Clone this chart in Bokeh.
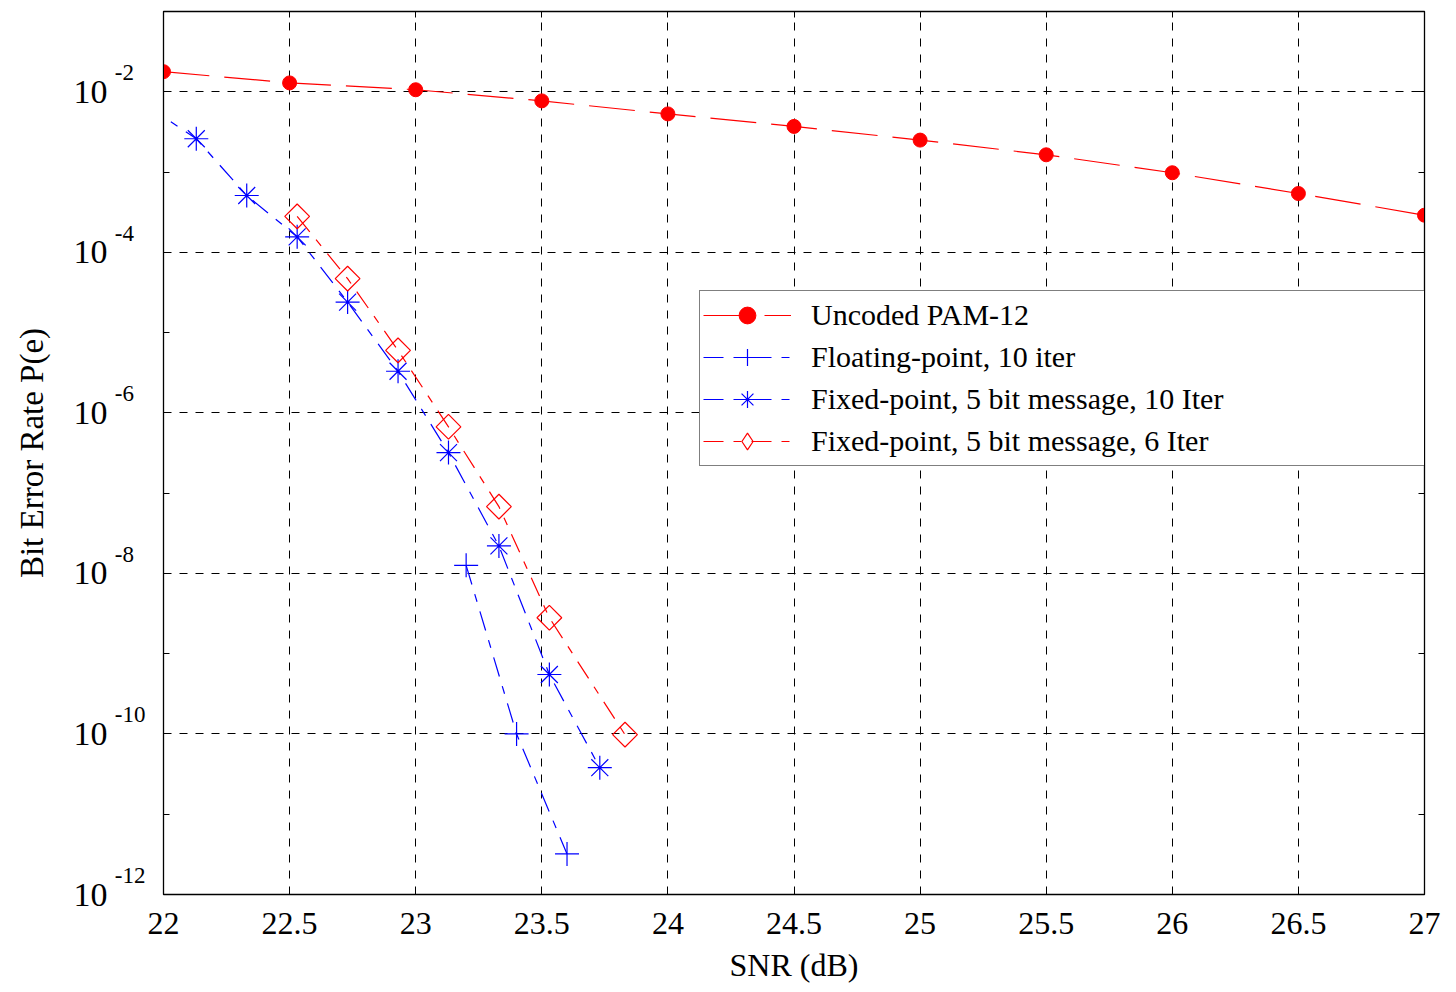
import math
from bokeh.plotting import figure
from bokeh.models import (FixedTicker, Legend, LogAxis, LinearAxis, Range1d,
                          CustomJSTickFormatter)
from bokeh.embed import file_html
from bokeh.resources import INLINE

# ---------------- data ----------------
snr_uncoded = [22.0, 22.5, 23.0, 23.5, 24.0, 24.5, 25.0, 25.5, 26.0, 26.5, 27.0]
ber_uncoded = [1.78e-2, 1.29e-2, 1.06e-2, 7.7e-3, 5.3e-3, 3.7e-3, 2.5e-3, 1.64e-3, 9.8e-4, 5.4e-4, 2.9e-4]

snr_float10 = [23.2, 23.4, 23.6]
ber_float10 = [1.26e-8, 1.0e-10, 3.2e-12]

snr_fixed10 = [21.93, 22.13, 22.33, 22.53, 22.73, 22.93, 23.13, 23.33, 23.53, 23.73]
ber_fixed10 = [6.8e-3, 2.6e-3, 5.1e-4, 1.56e-4, 2.4e-5, 3.3e-6, 3.2e-7, 2.2e-8, 5.5e-10, 3.8e-11]

snr_fixed6 = [22.53, 22.73, 22.93, 23.13, 23.33, 23.53, 23.83]
ber_fixed6 = [2.8e-4, 4.7e-5, 6.0e-6, 6.7e-7, 6.8e-8, 2.8e-9, 9.8e-11]

x_ticks = [22, 22.5, 23, 23.5, 24, 24.5, 25, 25.5, 26, 26.5, 27]
x_tick_labels = ["22", "22.5", "23", "23.5", "24", "24.5", "25", "25.5", "26", "26.5", "27"]
y_major_exponents = [-12, -10, -8, -6, -4, -2]
y_minor_exponents = [-11, -9, -7, -5, -3, -1]
y_all_exponents = list(range(-12, 0))

labels = ["Uncoded PAM-12", "Floating-point, 10 iter",
          "Fixed-point, 5 bit message, 10 Iter", "Fixed-point, 5 bit message, 6 Iter"]

SERIF = "Liberation Serif"
RED = "#ff0000"
BLUE = "#0000ff"
SUP_RAISE = 0.237  # exponent labels sit this many decades above their tick

p = figure(width=1456, height=992, output_backend="svg", toolbar_location=None,
           y_axis_type="log", x_range=(22, 27), y_range=(1e-12, 1e-1),
           min_border_left=163, min_border_right=32, min_border_top=11, min_border_bottom=98)
p.outline_line_color = "black"
p.outline_line_width = 1.3
p.background_fill_color = "white"
p.border_fill_color = "white"

# x axis
p.xaxis.ticker = FixedTicker(ticks=x_ticks, minor_ticks=[])
p.xaxis.major_label_overrides = {t: s for t, s in zip(x_ticks, x_tick_labels)}
p.xaxis.major_label_text_font = SERIF
p.xaxis.major_label_text_font_size = "32px"
p.xaxis.major_label_text_color = "black"
p.xaxis.major_label_standoff = 18
p.xaxis.major_tick_in = 6
p.xaxis.major_tick_out = 0
p.xaxis.axis_label = "SNR (dB)"
p.xaxis.axis_label_text_font = SERIF
p.xaxis.axis_label_text_font_size = "32px"
p.xaxis.axis_label_text_font_style = "normal"
p.xaxis.axis_label_text_color = "black"
p.xaxis.axis_label_standoff = 10
p.xaxis.axis_line_color = "black"

# inner y axis: decade tick marks + raised exponents
major_vals = [10.0 ** e for e in y_major_exponents]
minor_vals = [10.0 ** e for e in y_minor_exponents]
sup_vals = [10.0 ** (e + SUP_RAISE) for e in y_major_exponents]
p.yaxis.ticker = FixedTicker(ticks=sup_vals,
                             minor_ticks=[10.0 ** e for e in y_all_exponents])
p.yaxis.major_label_overrides = {v: str(e) + ("" if e <= -10 else "\u2007")
                                 for v, e in zip(sup_vals, y_major_exponents)}
p.yaxis.major_label_text_font = SERIF
p.yaxis.major_label_text_font_size = "23px"
p.yaxis.major_label_text_color = "black"
p.yaxis.major_label_standoff = 18
p.yaxis.major_tick_in = 0
p.yaxis.major_tick_out = 0
p.yaxis.minor_tick_in = 6
p.yaxis.minor_tick_out = 0
p.yaxis.axis_line_color = "black"
p.ygrid.ticker = FixedTicker(ticks=major_vals, minor_ticks=[])

# outer y axis: the "10" bases and the axis title
base_axis = LogAxis(ticker=FixedTicker(ticks=major_vals, minor_ticks=[]),
                    major_label_overrides={v: "10" for v in major_vals},
                    major_label_text_font=SERIF, major_label_text_font_size="34px",
                    major_label_text_color="black", major_label_standoff=4,
                    major_tick_in=0, major_tick_out=0, minor_tick_in=0, minor_tick_out=0,
                    axis_line_color=None,
                    axis_label="Bit Error Rate P(e)", axis_label_text_font=SERIF,
                    axis_label_text_font_size="33px", axis_label_text_font_style="normal",
                    axis_label_text_color="black", axis_label_standoff=21)
p.add_layout(base_axis, "left")

# box ticks on the right and top edges (no labels)
blank = CustomJSTickFormatter(code="return ''")
right_axis = LogAxis(ticker=FixedTicker(ticks=major_vals, minor_ticks=minor_vals),
                     formatter=blank, major_label_text_font_size="1px", major_label_standoff=0,
                     major_tick_in=6, major_tick_out=0, minor_tick_in=6, minor_tick_out=0,
                     axis_line_color="black")
p.add_layout(right_axis, "right")
top_axis = LinearAxis(ticker=FixedTicker(ticks=x_ticks, minor_ticks=[]),
                      formatter=blank, major_label_text_font_size="1px", major_label_standoff=0,
                      major_tick_in=6, major_tick_out=0, axis_line_color="black")
p.add_layout(top_axis, "above")

# grid
p.xgrid.grid_line_color = "black"
p.xgrid.grid_line_dash = "8 8"
p.xgrid.grid_line_width = 1
p.ygrid.grid_line_color = "black"
p.ygrid.grid_line_dash = "8 8"
p.ygrid.grid_line_width = 1

# series
l0 = p.line(snr_uncoded, ber_uncoded, line_color=RED, line_width=1.2, line_dash="46 15")
s0 = p.scatter(snr_uncoded, ber_uncoded, marker="circle", size=14,
               fill_color=RED, line_color=RED)

l1 = p.line(snr_float10, ber_float10, line_color=BLUE, line_width=1.2, line_dash="20 10 8 10")
s1 = p.scatter(snr_float10, ber_float10, marker="cross", size=24,
               fill_color=None, line_color=BLUE, line_width=1.2)

l2 = p.line(snr_fixed10, ber_fixed10, line_color=BLUE, line_width=1.2, line_dash="20 10 8 10")
s2 = p.scatter(snr_fixed10, ber_fixed10, marker="asterisk", size=24,
               fill_color=None, line_color=BLUE, line_width=1.2)

l3 = p.line(snr_fixed6, ber_fixed6, line_color=RED, line_width=1.2, line_dash="20 10 8 10")
s3 = p.scatter(snr_fixed6, ber_fixed6, marker="square", size=17.5, angle=math.pi / 4,
               fill_color=None, line_color=RED, line_width=1.2)
# legend key (diamond); mapped to a range that keeps it off the frame
p.extra_x_ranges = {"key": Range1d(100, 101)}
s3_key = p.scatter(snr_fixed6, ber_fixed6, x_range_name="key", marker="diamond", size=28,
                   fill_color=None, line_color=RED, line_width=1.2)

legend = Legend(items=[(labels[0], [l0, s0]), (labels[1], [l1, s1]),
                       (labels[2], [l2, s2]), (labels[3], [l3, s3_key])],
                location=(536, 428), padding=3, spacing=0,
                glyph_width=88, glyph_height=42, label_height=42,
                label_width=611, label_standoff=20,
                label_text_font=SERIF, label_text_font_size="30px",
                label_text_color="black",
                border_line_color="black", border_line_width=1,
                background_fill_color="white", background_fill_alpha=1.0,
                margin=0)
p.add_layout(legend, "center")

open("out.html", "w").write(file_html(p, INLINE))
